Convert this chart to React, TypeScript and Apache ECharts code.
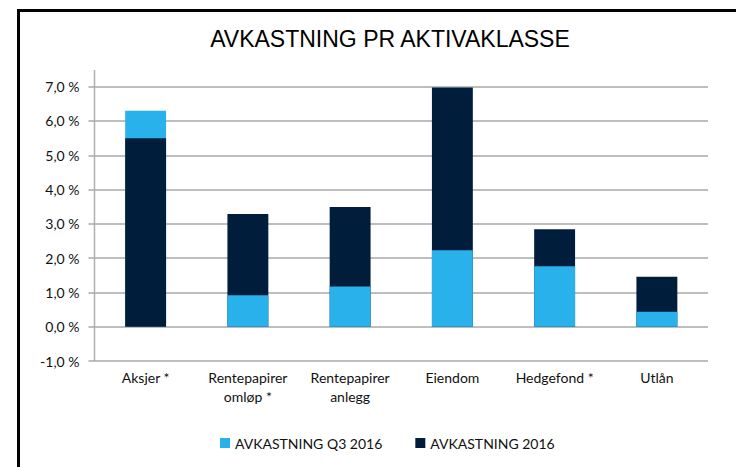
import { useEffect, useRef } from "react";
import * as echarts from "echarts";

const categories = [
  "Aksjer *",
  "Rentepapirer\nomløp *",
  "Rentepapirer\nanlegg",
  "Eiendom",
  "Hedgefond *",
  "Utlån",
];
const seriesNames = ["AVKASTNING Q3 2016", "AVKASTNING 2016"];
const q3Values = [6.3, 0.92, 1.17, 2.23, 1.76, 0.44];
const ytdValues = [5.5, 3.29, 3.49, 6.98, 2.84, 1.46];
const yMin = -1;
const yMax = 7;
const yStep = 1;

const LIGHT = "#29b1eb";
const DARK = "#011d3c";
const FONT = "Lato, 'Open Sans', sans-serif";

export default function App() {
  const ref = useRef<HTMLDivElement>(null);
  useEffect(() => {
    document.body.style.margin = "0";
    if (!ref.current) return;
    const chart = echarts.init(ref.current, null, { renderer: "svg" });

    // overlapped bars: the taller one behind, the shorter one in front
    const back = q3Values.map((q, i) => {
      const y = ytdValues[i];
      return q > y
        ? { value: q, itemStyle: { color: LIGHT } }
        : { value: y, itemStyle: { color: DARK } };
    });
    const front = q3Values.map((q, i) => {
      const y = ytdValues[i];
      return q > y
        ? { value: y, itemStyle: { color: DARK } }
        : { value: q, itemStyle: { color: LIGHT } };
    });

    const common = { type: "bar" as const, barGap: "-100%", barWidth: "40%" };

    chart.setOption({
      animation: false,
      backgroundColor: "#ffffff",
      title: {
        text: "AVKASTNING PR AKTIVAKLASSE",
        left: 385,
        textAlign: "center",
        top: 22,
        textStyle: {
          fontFamily: "'Liberation Sans', Arial, sans-serif",
          fontSize: 23,
          fontWeight: "normal",
          color: "#000",
        },
      },
      graphic: [
        {
          type: "rect",
          shape: { x: 18.5, y: 10.5, width: 900, height: 900 },
          style: { fill: "none", stroke: "#000", lineWidth: 3 },
          silent: true,
          z: 10,
        },
        {
          type: "line",
          shape: { x1: 94.5, y1: 70, x2: 94.5, y2: 361 },
          style: { stroke: "#b0b0b0", lineWidth: 1.5 },
          silent: true,
        },
      ],
      legend: {
        data: seriesNames,
        left: 215,
        top: 431,
        itemWidth: 10,
        itemHeight: 10,
        itemGap: 33,
        icon: "rect",
        textStyle: { fontFamily: FONT, fontSize: 14, color: "#111" },
      },
      grid: { left: 94.5, right: 28, top: 86.7, bottom: 106, containLabel: false },
      xAxis: {
        type: "category",
        data: categories,
        axisLine: { show: false, onZero: false },
        axisTick: { show: false },
        axisLabel: {
          fontFamily: FONT,
          fontSize: 14,
          color: "#111",
          lineHeight: 19,
          margin: 7,
          interval: 0,
        },
      },
      yAxis: {
        type: "value",
        min: yMin,
        max: yMax,
        interval: yStep,
        axisLine: { show: false },
        axisTick: { show: true, length: 6, lineStyle: { color: "#a8a8a8", width: 1.5 } },
        splitLine: { lineStyle: { color: "#a8a8a8", width: 1.5 } },
        axisLabel: {
          fontFamily: FONT,
          fontSize: 14,
          color: "#111",
          margin: 15,
          formatter: (v: number) => v.toFixed(1).replace(".", ",") + " %",
        },
      },
      series: [
        { ...common, name: seriesNames[0], data: [], itemStyle: { color: LIGHT } },
        { ...common, name: seriesNames[1], data: [], itemStyle: { color: DARK } },
        { ...common, name: "back", data: back },
        { ...common, name: "front", data: front },
      ],
    });
    return () => chart.dispose();
  }, []);
  return (
    <div
      ref={ref}
      style={{ position: "absolute", left: 0, top: 0, width: 736, height: 467 }}
    />
  );
}
